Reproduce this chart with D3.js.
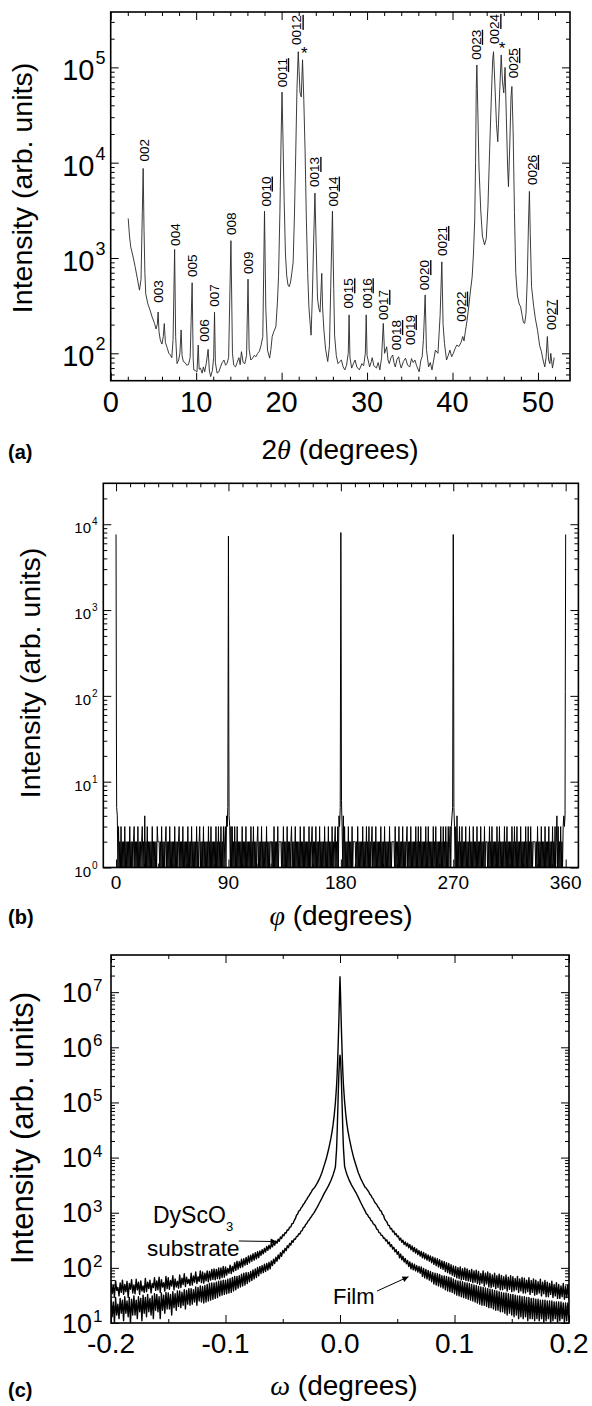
<!DOCTYPE html>
<html><head><meta charset="utf-8">
<script src="https://cdn.jsdelivr.net/npm/d3@7"></script>
<style>
body{margin:0;background:#fff;}
svg{display:block;}
text{font-family:"Liberation Sans",Arial,Helvetica,sans-serif;fill:#000;}
</style></head><body>
<svg id="chart" width="592" height="1406"></svg>
<script>
// ================= DATA =================
// ---- (a) theta-2theta scan ----
const twoTheta = [
 2.05,2.2,2.35,2.6,2.86,3.1,3.37,3.55,3.7,3.8,
 3.9,4.0,4.1,4.35,4.6,4.85,5.13,5.3,5.45,5.55,
 5.65,5.8,6.0,6.15,6.27,6.4,6.6,6.8,6.98,7.15,
 7.3,7.48,7.6,7.76,7.95,8.1,8.24,8.35,8.5,8.7,
 8.9,9.1,9.3,9.53,9.65,9.72,9.9,10.1,10.24,10.35,
 10.5,10.7,10.85,11.0,11.2,11.4,11.55,11.7,11.9,12.05,
 12.15,12.25,12.45,12.66,12.85,13.05,13.25,13.45,13.6,13.8,
 14.07,14.25,14.4,14.6,14.8,15.0,15.15,15.3,15.5,15.7,
 15.9,16.07,16.2,16.4,16.6,16.8,17.0,17.2,17.4,17.6,
 17.8,18.0,18.15,18.35,18.6,18.75,18.9,19.1,19.33,19.5,
 19.64,19.8,19.95,20.05,20.15,20.3,20.45,20.6,20.75,20.9,
 21.05,21.2,21.35,21.5,21.65,21.8,21.95,22.05,22.15,22.3,
 22.45,22.6,22.75,22.9,23.05,23.2,23.35,23.45,23.6,23.75,
 23.9,24.05,24.2,24.35,24.5,24.7,24.8,24.95,25.15,25.4,
 25.6,25.75,25.95,26.1,26.2,26.4,26.6,26.8,27.0,27.2,
 27.4,27.6,27.8,27.9,28.0,28.2,28.4,28.6,28.8,29.1,
 29.4,29.6,29.8,29.9,30.0,30.3,30.5,30.6,30.8,31.1,
 31.3,31.5,31.7,31.9,32.05,32.3,32.45,32.6,32.8,33.0,
 33.15,33.3,33.5,33.7,33.85,34.0,34.25,34.5,34.75,35.0,
 35.2,35.4,35.6,35.8,36.1,36.3,36.45,36.6,36.8,36.95,
 37.2,37.4,37.6,37.8,38.0,38.3,38.55,38.75,38.9,39.06,
 39.3,39.5,39.7,39.9,40.1,40.3,40.5,40.75,41.0,41.2,
 41.35,41.5,41.7,41.9,42.1,42.3,42.45,42.6,42.7,42.78,
 42.85,42.95,43.1,43.3,43.5,43.75,43.95,44.15,44.35,44.55,
 44.7,44.8,44.95,45.15,45.3,45.5,45.7,45.85,46.0,46.15,
 46.3,46.45,46.55,46.7,46.85,46.95,47.1,47.25,47.4,47.6,
 47.8,47.97,48.15,48.3,48.45,48.6,48.75,48.9,49.0,49.1,
 49.25,49.5,49.7,49.95,50.2,50.4,50.6,50.8,50.95,51.1,
 51.25,51.4,51.5,51.7,51.9
];
const intensityA = [
 2600,1700,1300,1050,810,620,460,600,3000,8700,
 2000,700,420,330,285,240,206,180,200,271,
 170,138,125,150,205,130,115,100,96,90,
 140,1230,150,78,85,100,176,95,82,80,
 75,76,90,550,90,67,66,64,122,68,
 70,62,72,64,80,110,65,57,66,90,
 270,80,62,64,72,80,85,75,78,90,
 1520,100,75,72,80,90,76,104,80,78,
 95,600,110,85,89,95,92,100,105,122,
 150,3100,300,108,89,110,150,170,190,330,
 635,3000,20000,55000,20000,4000,1100,650,520,500,
 560,700,900,2700,12000,60000,146000,90000,55000,49000,
 120000,45000,13000,2500,700,300,200,155,400,1500,
 4800,1300,380,296,270,690,300,175,110,82,
 120,500,3100,480,155,95,78,82,85,72,
 67,75,100,253,90,70,78,85,72,67,
 78,74,100,253,95,72,82,90,74,70,
 80,67,90,206,100,117,85,78,90,96,
 80,72,86,92,78,70,82,89,75,72,
 88,80,85,74,64,85,92,140,410,110,
 72,80,67,85,108,100,250,910,200,127,
 85,95,108,92,100,112,122,118,130,150,
 135,168,220,309,450,635,1100,2500,10000,60000,
 106000,40000,9000,3200,1700,1370,1600,3500,14000,50000,
 120000,146000,70000,25000,16600,50000,135000,70000,54000,100000,
 30000,9000,5600,15000,50000,63000,20000,3000,700,400,
 330,308,250,210,206,260,600,2500,5000,1800,
 500,310,230,175,120,105,85,72,90,150,
 85,78,100,70,90
];
const peakLabels = ["002","003","004","005","006","007","008","009","0010","0011","0012","0013","0014",
 "0015","0016","0017","0018","0019","0020","0021","0022","0023","0024","0025","0026","0027"];
const peakLabelTheta = [3.9,5.6,7.56,9.53,10.9,12.15,14.1,16.07,18.15,20.05,21.76,23.84,26.0,
 27.8,29.96,31.9,33.4,35.0,36.7,38.8,41.0,42.75,44.9,47.1,49.3,51.5];
const peakLabelLevel = [10300,340,1340,630,132,308,1740,680,3460,62000,172000,5560,3460,
 296,296,224,108,122,460,1050,215,120000,176000,77000,5830,176];
const substrateMarkTheta = [22.66,45.8];
const substrateMarkLevel = [122000,138000];
const aXTicks = [0,10,20,30,40,50];
const aYTickExp = [2,3,4,5];

// ---- (b) phi scan: counts every 0.5 degree from 0 to 360 ----
const phiBackground = [
 1,5,4,1,3,1,2,1,3,1,
 2,1,2,1,3,1,2,1,2,1,
 2,1,3,1,2,1,2,1,2,3,
 1,2,1,2,1,3,1,2,1,2,
 1,2,3,1,2,1,4,1,2,1,
 3,1,2,1,2,1,2,1,3,1,
 2,1,2,1,2,1,3,2,2,2,
 1,2,1,3,1,2,1,2,1,2,
 3,1,2,1,2,1,3,1,2,1,
 2,1,2,1,3,1,2,1,2,1,
 2,3,1,2,1,2,1,3,1,2,
 1,2,1,2,1,3,1,2,1,2,
 1,3,1,2,1,2,1,2,1,3,
 1,2,1,2,3,1,2,1,2,1,
 3,1,2,1,2,1,2,1,3,1,
 2,1,3,1,2,1,2,1,2,1,
 3,1,2,1,3,1,2,1,3,1,
 2,1,3,1,2,3,1,4,3,5,
 1,4,3,1,3,1,3,1,2,1,
 3,1,2,1,3,1,2,1,2,1,
 2,1,3,1,2,1,2,1,3,1,
 2,1,2,1,2,1,3,1,2,1,
 3,1,2,1,2,1,2,3,1,2,
 1,2,1,3,1,2,1,2,1,2,
 1,3,1,2,1,2,1,2,2,2,
 1,2,1,3,1,2,1,2,1,3,
 1,2,2,2,2,1,2,1,3,1,
 2,1,2,1,3,1,2,1,2,1,
 2,3,1,2,1,2,1,3,1,2,
 1,2,1,2,1,3,1,2,1,2,
 1,3,1,2,1,2,1,2,1,3,
 1,2,1,2,3,1,2,1,2,1,
 3,1,2,1,2,1,3,1,2,1,
 2,1,2,1,3,1,2,1,2,1,
 3,1,2,1,2,1,3,1,2,1,
 2,3,1,2,1,3,1,4,3,5,
 1,6,3,1,4,1,3,1,2,1,
 2,1,3,1,2,1,2,1,3,1,
 2,2,2,2,1,2,1,3,1,2,
 1,2,1,2,1,3,1,2,1,2,
 1,3,1,2,1,3,1,2,1,2,
 3,1,2,1,2,1,3,1,2,1,
 2,1,2,1,3,1,2,1,2,1,
 3,1,2,1,2,1,2,1,3,1,
 2,1,2,2,2,2,1,3,1,2,
 1,2,1,3,1,2,1,2,1,3,
 1,2,1,2,1,2,3,1,2,1,
 2,1,3,1,2,1,2,1,2,1,
 3,1,2,1,3,1,2,1,3,1,
 2,1,2,1,2,1,3,1,2,1,
 3,1,2,1,2,1,2,1,3,1,
 2,1,3,1,2,1,2,1,2,1,
 3,1,2,1,3,1,2,1,3,1,
 2,1,3,1,2,3,1,3,4,5,
 1,5,3,1,3,1,4,1,2,1,
 3,1,2,1,3,1,2,1,2,1,
 3,1,2,1,2,1,3,1,2,1,
 2,1,3,1,2,1,2,1,3,1,
 2,1,2,1,3,1,2,1,2,1,
 3,1,2,2,2,1,2,1,3,1,
 2,1,3,1,2,1,2,1,2,1,
 3,1,2,1,3,1,2,1,2,1,
 2,1,3,1,2,1,3,1,2,1,
 2,1,2,1,3,1,2,1,3,1,
 2,1,3,1,2,1,2,1,3,1,
 2,1,2,1,2,1,3,1,2,1,
 3,1,2,1,3,1,2,1,2,2,
 2,2,1,2,1,3,1,2,1,2,
 1,3,1,2,1,2,1,3,1,2,
 1,2,1,3,1,2,1,2,1,3,
 1,2,1,3,1,2,4,1,3,1,
 2,1,3,1,2,1,3,4,3,4,
 1
];
const phiPeaks = [0,90,180,270,360];
const countPeaks = [7600,7300,8000,7600,7600];
const phiShoulders = [0.3,90.3,180.3,270.3,359.7];
const countShoulders = [40,30,170,360,112];
const bXTicks = [0,90,180,270,360];
const bYTickExp = [0,1,2,3,4];

// ---- (c) omega rocking curves (omega in millidegrees) ----
const omegaTailMilli = [22,23,24,25,26,27,28,29,30,
 31,32,33,34,35,36,37,38,39,40, 41,42,43,44,45,46,47,48,49,50,
 51,52,53,54,55,56,57,58,59,60, 61,62,63,64,65,66,67,68,69,70,
 71,72,73,74,75,76,77,78,79,80, 81,82,83,84,85,86,87,88,89,90,
 91,92,93,94,95,96,97,98,99,100, 101,102,103,104,105,106,107,108,109,110,
 111,112,113,114,115,116,117,118,119,120, 121,122,123,124,125,126,127,128,129,130,
 131,132,133,134,135,136,137,138,139,140, 141,142,143,144,145,146,147,148,149,150,
 151,152,153,154,155,156,157,158,159,160, 161,162,163,164,165,166,167,168,169,170,
 171,172,173,174,175,176,177,178,179,180, 181,182,183,184,185,186,187,188,189,190,
 191,192,193,194,195,196,197,198,199,200];
const omegaCoreMilli = [-20,-18,-16,-14,-12,-10,-8,-7,-6,-5,-4,-3,-2.5,-2,-1.5,-1,-0.5,0,
 0.5,1,1.5,2,2.5,3,4,5,6,7,8,10,12,14,16,18,20];
// substrate, left tail listed from -0.200 towards the centre
const substrateLeft = [
 55,34,48,30,58,39,44,31,53,36,
 60,33,50,37,57,29,52,41,61,35,
 49,34,62,40,55,33,58,38,47,36,
 64,37,55,42,60,35,52,44,66,39,
 58,40,68,36,61,45,54,38,70,42,
 66,41,59,47,72,40,63,45,57,43,
 74,44,65,50,78,46,68,52,62,48,
 80,49,71,55,84,52,69,57,88,54,
 84,53,80,58,88,56,86,60,94,62,
 96,61,94,64,100,63,100,67,106,68,
 104,74,98,80,112,79,106,86,124,90,
 132,95,130,101,143,104,146,112,155,116,
 164,124,170,132,180,138,188,146,196,154,
 202,168,214,180,226,194,244,208,258,222,
 272,240,290,258,306,280,332,302,364,340,
 400,382,436,428,490,484,548,548,630,640,
 720,780,900,950,1070,1110,1220,1290,1420,1490,
 1640,1750,1920,2040,2220,2390,2620,2740,2910];
const substrateCore = [3400,4100,5200,7000,9500,14000,22000,29000,40000,60000,100000,200000,
 320000,600000,1300000,3000000,8000000,19000000,8500000,3200000,1400000,650000,350000,210000,
 105000,62000,41000,30000,23000,14500,9800,7200,5300,4200,3450];
// substrate, right tail listed from +0.022 outwards
const substrateRight = [
 2880,2770,2580,2420,2180,2070,1880,1780,1600,
 1480,1420,1280,1220,1100,1070,940,900,770,720,
 680,590,590,510,520,450,465,400,420,365,
 380,318,345,290,318,265,295,248,280,232,
 265,212,250,198,234,186,220,174,206,164,
 198,152,190,146,180,138,172,132,164,124,
 158,116,152,110,146,104,140,98,134,94,
 130,86,124,82,120,78,114,74,108,70,
 106,66,101,64,104,61,97,62,100,59,
 96,58,90,57,94,54,88,55,91,52,
 86,50,79,53,88,47,80,51,84,45,
 79,44,74,46,80,42,72,44,77,40,
 73,40,69,42,74,38,68,41,72,37,
 69,38,64,40,70,36,63,38,67,35,
 65,35,60,37,66,33,59,36,63,32,
 60,33,56,35,62,31,55,34,59,30,
 55,30,52,33,57,29,50,31,54,28,
 50,28,47,30,52,27,46,29,49,26];
const filmLeft = [
 27,13,24,10,29,14,22,12,28,15,
 26,11,30,15,25,13,29,10,27,14,
 31,14,26,12,30,16,28,11,32,15,
 29,13,33,16,28,14,31,12,34,17,
 33,16,30,12,35,17,32,15,36,18,
 35,18,33,14,37,19,34,17,38,20,
 38,19,36,21,40,18,39,22,42,21,
 42,22,40,24,45,21,44,25,47,24,
 46,23,48,24,50,25,52,26,53,27,
 53,28,55,29,57,31,58,32,60,33,
 60,34,62,35,64,36,67,38,70,40,
 70,43,72,45,77,47,80,49,82,52,
 82,56,86,59,92,63,96,67,102,72,
 106,79,110,82,116,86,120,91,126,96,
 134,110,144,120,156,132,172,146,188,162,
 206,186,226,206,252,232,278,258,310,290,
 335,330,370,372,415,412,465,475,540,548,
 610,640,700,735,800,845,920,975,1060];
const filmCore = [1250,1500,1800,2200,2600,3100,3800,4300,4900,5700,6800,14000,
 28000,65000,150000,320000,560000,720000,600000,340000,160000,70000,30000,15000,
 7000,5800,5000,4400,3900,3200,2700,2300,1900,1550,1280];
const filmRight = [
 1070,960,925,835,805,725,700,630,610,
 575,505,495,436,432,388,388,345,348,308,
 322,272,292,244,264,220,236,196,214,176,
 196,152,178,140,162,128,148,118,136,106,
 128,96,122,92,116,88,110,84,106,80,
 104,70,98,66,94,63,90,60,86,56,
 82,51,80,49,78,47,76,45,72,43,
 71,40,70,38,68,37,66,36,63,34,
 60,32,58,31,57,30,56,29,54,28,
 53,27,52,26,50,25,49,24,48,23,
 46,22,45,21,44,21,43,20,42,19,
 41,19,40,18,39,17,38,17,37,16,
 36,16,35,15,35,14,34,15,33,14,
 33,13,32,14,31,12,31,13,30,12,
 30,13,29,11,29,12,28,12,28,11,
 27,12,27,11,26,12,26,10,26,11,
 25,12,25,10,25,11,24,12,24,10,
 24,11,24,12,23,10,23,11,23,11];
const cXTicks = [-0.2,-0.1,0,0.1,0.2];
const cXTickLabels = ["-0.2","-0.1","0.0","0.1","0.2"];
const cYTickExp = [1,2,3,4,5,6,7];

// ================= DRAWING =================
const svg = d3.select("#chart");
const defs = svg.append("defs");
defs.append("marker").attr("id","arr").attr("viewBox","0 0 10 10").attr("refX",10).attr("refY",5)
  .attr("markerWidth",9).attr("markerHeight",6).attr("markerUnits","userSpaceOnUse").attr("orient","auto")
  .append("path").attr("d","M0,0L10,5L0,10Z").attr("fill","#000");

function logMinor(lo, hi){
  const out=[];
  for(let e=Math.floor(Math.log10(lo)); e<=Math.ceil(Math.log10(hi)); e++)
    for(let k=2;k<10;k++){ const v=k*Math.pow(10,e); if(v>lo && v<hi) out.push(v); }
  return out;
}
function frame(x, y, xMaj, xMin, yMaj, yMin, majLen, minLen){
  const [x0,x1]=x.range(), [yb,yt]=y.range();
  const g=svg.append("g");
  const ax=(gen,vals,len,tx,ty)=>{
    const a=g.append("g").attr("transform",`translate(${tx},${ty})`)
      .call(gen.tickValues(vals).tickSize(-len).tickSizeOuter(0).tickFormat(""));
    a.select(".domain").remove();
    a.selectAll("line").attr("stroke","#000").attr("stroke-width",1);
  };
  ax(d3.axisBottom(x),xMaj,majLen,0,yb); ax(d3.axisBottom(x),xMin,minLen,0,yb);
  ax(d3.axisTop(x),xMaj,majLen,0,yt);    ax(d3.axisTop(x),xMin,minLen,0,yt);
  ax(d3.axisLeft(y),yMaj,majLen,x0,0);   ax(d3.axisLeft(y),yMin,minLen,x0,0);
  ax(d3.axisRight(y),yMaj,majLen,x1,0);  ax(d3.axisRight(y),yMin,minLen,x1,0);
  g.append("rect").attr("x",x0).attr("y",yt).attr("width",x1-x0).attr("height",yb-yt)
    .attr("fill","none").attr("stroke","#000").attr("stroke-width",1.6);
}
function powLabels(y, exps, o){
  exps.forEach(e=>{
    const yy=y(Math.pow(10,e));
    svg.append("text").attr("x",o.x).attr("y",yy+o.base).attr("text-anchor","end").attr("font-size",o.size).text("10");
    svg.append("text").attr("x",o.x+o.gap).attr("y",yy+o.supBase).attr("font-size",o.supSize).text(e);
  });
}
function xLabels(x, vals, texts, base, size){
  vals.forEach((v,i)=>svg.append("text").attr("x",x(v)).attr("y",base).attr("text-anchor","middle")
    .attr("font-size",size).text(texts[i]));
}
function yTitle(cx, cy, size){
  svg.append("text").attr("transform",`translate(${cx},${cy}) rotate(-90)`).attr("text-anchor","middle")
    .attr("font-size",size).text("Intensity (arb. units)");
}
function xTitle(cx, base, greek){
  const t=svg.append("text").attr("x",cx).attr("y",base).attr("text-anchor","middle").attr("font-size",28);
  if(greek==="θ") t.append("tspan").text("2");
  t.append("tspan").attr("font-family","'Liberation Serif','DejaVu Serif',serif").attr("font-style","italic").text(greek);
  t.append("tspan").text(greek==="φ" ? "  (degrees)" : " (degrees)");
}
function tag(txt, base){
  svg.append("text").attr("x",8).attr("y",base).attr("font-size",20).attr("font-weight","bold").text(txt);
}

// ---------- Panel (a) ----------
const xA=d3.scaleLinear().domain([0,53.75]).range([110.7,570]);
const yA=d3.scaleLog().domain([51.6,3.81e5]).range([380.7,12]);
frame(xA,yA,aXTicks,d3.range(2,54,2).filter(v=>v%10!==0),
  aYTickExp.map(e=>Math.pow(10,e)),logMinor(51.6,3.81e5),8,4);
const scanA=twoTheta.map((t,i)=>[t,intensityA[i]]);
svg.append("path").datum(scanA).attr("fill","none").attr("stroke","#262626").attr("stroke-width",0.9)
  .attr("stroke-linejoin","round")
  .attr("d",d3.line().x(d=>xA(d[0])).y(d=>yA(d[1])));
peakLabels.forEach((lab,i)=>{
  const px=xA(peakLabelTheta[i])+4.8, py=yA(peakLabelLevel[i]);
  const t=svg.append("text").attr("transform",`translate(${px},${py}) rotate(-90)`).attr("font-size",13.5);
  if(lab.length>3){ t.append("tspan").text(lab.slice(0,2)); t.append("tspan").style("text-decoration","underline").text(lab.slice(2)); }
  else t.text(lab);
});
substrateMarkTheta.forEach((t,i)=>svg.append("text").attr("x",xA(t)).attr("y",yA(substrateMarkLevel[i]))
  .attr("text-anchor","middle").attr("font-size",17).text("*"));
powLabels(yA,aYTickExp,{x:94.5,gap:1,base:13,supBase:-3,size:29,supSize:18});
xLabels(xA,aXTicks,aXTicks.map(String),411.5,29);
xTitle(340,459,"θ");
yTitle(32,188,28.5);
tag("(a)",459);

// ---------- Panel (b) ----------
const xB=d3.scaleLinear().domain([-10.2,370.2]).range([103.3,578.4]);
const yB=d3.scaleLog().domain([1,3.0e4]).range([867.5,483.3]);
frame(xB,yB,bXTicks,d3.range(0,361,11.25).filter(v=>v%90!==0),
  bYTickExp.map(e=>Math.pow(10,e)),logMinor(1,3.0e4),8,4);
const scanB=[];
phiBackground.forEach((c,i)=>{ const p=i/2; if(!phiPeaks.includes(p)) scanB.push([p,c]); });
phiPeaks.forEach((p,i)=>scanB.push([p,countPeaks[i]]));
phiShoulders.forEach((p,i)=>scanB.push([p,countShoulders[i]]));
scanB.sort((a,b)=>a[0]-b[0]);
svg.append("path").datum(scanB).attr("fill","none").attr("stroke","#000").attr("stroke-width",1)
  .attr("d",d3.line().x(d=>xB(d[0])).y(d=>yB(d[1])));
powLabels(yB,bYTickExp,{x:91,gap:1,base:9,supBase:1,size:15,supSize:10});
xLabels(xB,bXTicks,bXTicks.map(String),889,19);
xTitle(341,925,"φ");
yTitle(40,673,28.5);
tag("(b)",924);

// ---------- Panel (c) ----------
const xC=d3.scaleLinear().domain([-0.2,0.2]).range([111,569]);
const yC=d3.scaleLog().domain([10,4.72e7]).range([1323,955]);
frame(xC,yC,cXTicks,[-0.15,-0.05,0.05,0.15],
  cYTickExp.map(e=>Math.pow(10,e)),logMinor(10,4.72e7),8,4);
function buildCurve(left, core, right){
  const pts=[];
  const n=omegaTailMilli.length;
  left.forEach((v,i)=>pts.push([-omegaTailMilli[n-1-i]/1000, v]));
  core.forEach((v,i)=>pts.push([omegaCoreMilli[i]/1000, v]));
  right.forEach((v,i)=>pts.push([omegaTailMilli[i]/1000, v]));
  return pts;
}
const curveS=buildCurve(substrateLeft,substrateCore,substrateRight);
const curveF=buildCurve(filmLeft,filmCore,filmRight);
defs.append("clipPath").attr("id","clipC").append("rect").attr("x",111).attr("y",955).attr("width",458).attr("height",368);
const lineC=d3.line().x(d=>xC(d[0])).y(d=>yC(d[1]));
[curveS,curveF].forEach(c=>svg.append("path").datum(c).attr("clip-path","url(#clipC)")
  .attr("fill","none").attr("stroke","#000").attr("stroke-width",1.4).attr("stroke-linejoin","round").attr("d",lineC));
powLabels(yC,cYTickExp,{x:92,gap:1,base:9.5,supBase:-1,size:27,supSize:17});
xLabels(xC,cXTicks,cXTickLabels,1353,28);
xTitle(344,1395,"ω");
yTitle(33,1128,31);
tag("(c)",1397);
// annotations
svg.append("text").attr("x",153).attr("y",1223).attr("font-size",23).text("DyScO");
svg.append("text").attr("x",226).attr("y",1231).attr("font-size",13).text("3");
svg.append("text").attr("x",147).attr("y",1256).attr("font-size",22.5).text("substrate");
svg.append("text").attr("x",333).attr("y",1304).attr("font-size",22).text("Film");
svg.append("line").attr("x1",xC(-0.0884)).attr("y1",yC(307)).attr("x2",xC(-0.0554)).attr("y2",yC(300))
  .attr("stroke","#000").attr("stroke-width",1).attr("marker-end","url(#arr)");
svg.append("line").attr("x1",xC(0.0324)).attr("y1",yC(38)).attr("x2",xC(0.0598)).attr("y2",yC(69))
  .attr("stroke","#000").attr("stroke-width",1).attr("marker-end","url(#arr)");
</script></body></html>
